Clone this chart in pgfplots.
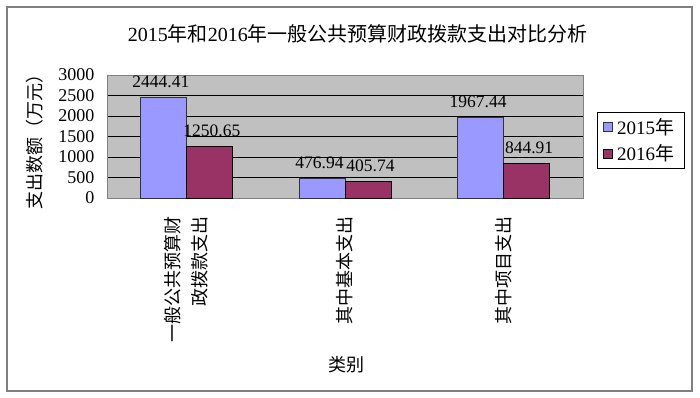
\documentclass[border=0pt]{standalone}
\usepackage{pgfplots}
\pgfplotsset{compat=1.18}
\usepackage{fontspec}
\setmainfont{Liberation Serif}
\newfontfamily\cjk{Noto Sans CJK SC}
\definecolor{bgray}{RGB}{192,192,192}
\definecolor{fgray}{RGB}{128,128,128}
\definecolor{c15}{RGB}{153,153,255}
\definecolor{c16}{RGB}{153,51,102}
\begin{document}
\begin{tikzpicture}
\useasboundingbox (0,0) rectangle (700pt,-398pt);
\begin{axis}[
  at={(107pt,-198pt)}, anchor=south west,
  scale only axis, width=476pt, height=123pt,
  xmin=-0.5, xmax=2.5, ymin=0, ymax=3000,
  ytick={0,500,...,3000},
  xtick={0,1,2},
  xticklabels={{一般公共预算财\\政拨款支出},{其中基本支出},{其中项目支出}},
  extra x ticks={0.5,1.5},
  extra x tick labels={},
  extra x tick style={major tick length=5pt, tick align=inside, tick style={draw=black, line width=0.8pt}},
  x tick style={draw=none},
  y tick style={draw=none},
  ymajorgrids,
  grid style={black, line width=0.8pt},
  axis background/.style={fill=bgray},
  axis line style={fgray, line width=1pt},
  /pgf/number format/assume math mode=true,
  /pgf/number format/1000 sep={},
  yticklabel style={font=\fontsize{18}{18}\selectfont, xshift=-9pt},
  xticklabel style={font=\cjk\fontsize{18}{27}\selectfont, yshift=-11pt, rotate=90, anchor=east, align=right},
  ybar=0pt, bar width=46pt,
  nodes near coords,
  nodes near coords style={font=\fontsize{17.5}{17.5}\selectfont, black, yshift=6pt, /pgf/number format/fixed, /pgf/number format/fixed zerofill, /pgf/number format/precision=2, /pgf/number format/1000 sep={}},
  title={2015{\cjk 年和}2016{\cjk 年一般公共预算财政拨款支出对比分析}},
  title style={at={(0.527,1.285)}, anchor=center, font=\fontsize{20}{20}\selectfont},
  ylabel={\cjk 支出数额（万元）},
  ylabel style={at={(-0.151,0.492)}, anchor=center, font=\fontsize{18}{18}\selectfont},
  xlabel={\cjk 类别},
  xlabel style={at={(0.504,-1.358)}, anchor=center, font=\fontsize{18}{18}\selectfont},
  legend style={at={(1.029,0.699)}, anchor=north west, draw=black, fill=white, font=\fontsize{19}{19}\selectfont, row sep=5pt, inner xsep=6pt, inner ysep=4pt, line width=0.8pt, nodes={inner xsep=4pt}},
  legend image code/.code={\draw[#1, line width=0.8pt] (0pt,-4.5pt) rectangle (9pt,4.5pt);},
  legend cell align=left,
]
\addplot[fill=c15, draw=black!80, line width=0.8pt, nodes near coords style={xshift=-2.5pt}] coordinates {(0,2444.41) (1,476.94) (2,1967.44)};
\addplot[fill=c16, draw=black, line width=0.8pt, nodes near coords style={xshift=2.5pt}] coordinates {(0,1250.65) (1,405.74) (2,844.91)};
\legend{2015{\cjk 年},2016{\cjk 年}}
\end{axis}
\draw[fgray, line width=2pt] (7pt,-7pt) rectangle (692pt,-391pt);
\end{tikzpicture}
\end{document}
